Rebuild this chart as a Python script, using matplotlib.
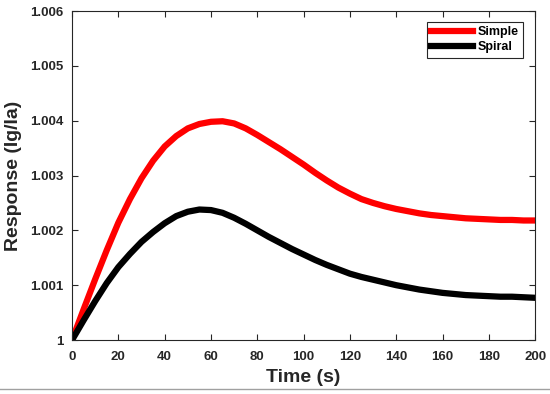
import matplotlib
matplotlib.use("Agg")
import matplotlib.pyplot as plt
from matplotlib.lines import Line2D

plt.rcParams["font.family"] = ["Liberation Sans", "DejaVu Sans"]

time_s = list(range(0, 201, 5))
simple = [1.0, 1.00056, 1.00111, 1.00164, 1.00214, 1.00257, 1.00295,
          1.00327, 1.00353, 1.00372, 1.00386, 1.00394, 1.00398, 1.00399,
          1.00395, 1.00386, 1.00374, 1.00361, 1.00348, 1.00334, 1.00320,
          1.00305, 1.00291, 1.00278, 1.00267, 1.00257, 1.00250, 1.00244,
          1.00239, 1.00235, 1.00231, 1.00228, 1.00226, 1.00224, 1.00222,
          1.00221, 1.00220, 1.00219, 1.00219, 1.00218, 1.00218]
spiral = [1.0, 1.00036, 1.00071, 1.00104, 1.00133, 1.00157, 1.00179,
          1.00197, 1.00213, 1.00226, 1.00234, 1.00238, 1.00237, 1.00232,
          1.00223, 1.00212, 1.00200, 1.00188, 1.00177, 1.00166, 1.00156,
          1.00146, 1.00137, 1.00129, 1.00121, 1.00115, 1.00110, 1.00105,
          1.00100, 1.00096, 1.00092, 1.00089, 1.00086, 1.00084, 1.00082,
          1.00081, 1.00080, 1.00079, 1.00079, 1.00078, 1.00077]

xticks = list(range(0, 201, 20))
yticks = [1.0, 1.001, 1.002, 1.003, 1.004, 1.005, 1.006]
ytick_labels = ["1", "1.001", "1.002", "1.003", "1.004", "1.005", "1.006"]

fig = plt.figure(figsize=(5.5, 3.94), dpi=100)
ax = fig.add_axes([0.131, 0.137, 0.842, 0.835])

ax.plot(time_s, simple, color="#ff0000", lw=4.5, solid_joinstyle="round",
        solid_capstyle="round")
ax.plot(time_s, spiral, color="#000000", lw=4.5, solid_joinstyle="round",
        solid_capstyle="round")

ax.set_xlim(0, 200)
ax.set_ylim(1.0, 1.006)
ax.set_xticks(xticks)
ax.set_yticks(yticks)
ax.set_yticklabels(ytick_labels)

ax.tick_params(direction="in", top=True, right=True, length=4, width=0.8,
               color="#262626", labelcolor="#262626", labelsize=9.5)
ax.tick_params(axis="x", pad=8)
ax.tick_params(axis="y", pad=6)
for lab in ax.get_xticklabels() + ax.get_yticklabels():
    lab.set_fontweight("bold")
for sp in ax.spines.values():
    sp.set_color("#262626")
    sp.set_linewidth(0.8)

ax.set_xlabel("Time (s)", fontsize=14, fontweight="bold", color="#262626",
              labelpad=4)
ax.set_ylabel("Response (Ig/Ia)", fontsize=14, fontweight="bold",
              color="#262626", labelpad=6)

handles = [Line2D([], [], color="#ff0000", lw=4.5),
           Line2D([], [], color="#000000", lw=4.5)]
leg = ax.legend(handles, ["Simple", "Spiral"], loc="upper right",
                bbox_to_anchor=(0.974, 0.967), borderaxespad=0,
                fancybox=False, framealpha=1, edgecolor="#262626",
                handlelength=3.3, handletextpad=0.4, borderpad=0.35,
                labelspacing=0.25, prop={"weight": "bold", "size": 9})
leg.get_frame().set_linewidth(0.8)

# thin grey rule along the bottom of the figure
fig.add_artist(Line2D([0, 1], [0.0127, 0.0127], transform=fig.transFigure,
                      color="#a0a0a0", lw=1))

fig.savefig("out.png", dpi=100)
